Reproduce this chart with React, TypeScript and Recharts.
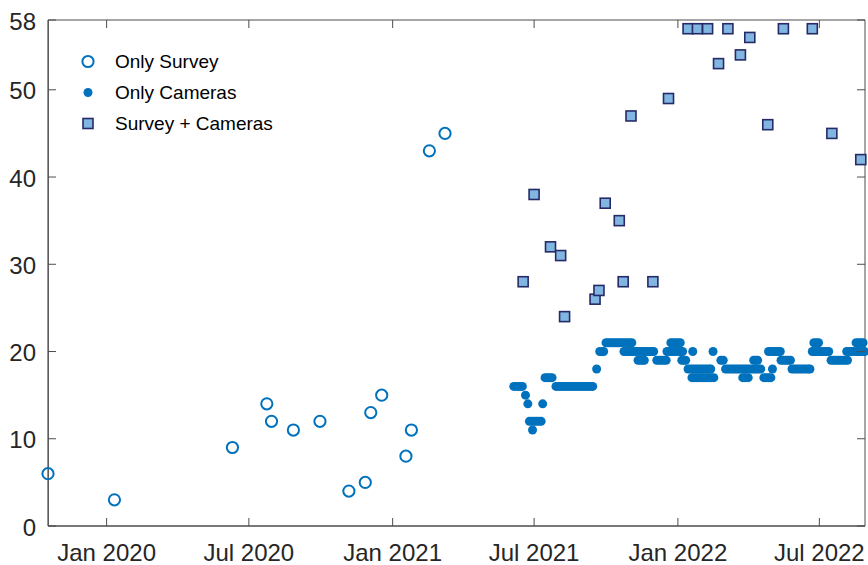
import React from 'react';
import { ScatterChart, Scatter, XAxis, YAxis, ReferenceArea, Legend } from 'recharts';

// Only Survey: count per survey date
const surveyDates = [
  '2019-10-18', '2020-01-11', '2020-06-10', '2020-07-24', '2020-07-30', '2020-08-27',
  '2020-09-30', '2020-11-06', '2020-11-27', '2020-12-04', '2020-12-18', '2021-01-18',
  '2021-01-25', '2021-02-17', '2021-03-09',
];
const surveyCounts = [6, 3, 9, 14, 12, 11, 12, 4, 5, 13, 15, 8, 11, 43, 45];

// Survey + Cameras
const comboDates = [
  '2021-06-17', '2021-07-01', '2021-07-22', '2021-08-04', '2021-08-09', '2021-09-17',
  '2021-09-22', '2021-09-30', '2021-10-18', '2021-10-23', '2021-11-02', '2021-11-30',
  '2021-12-20', '2022-01-14', '2022-01-26', '2022-02-08', '2022-02-22', '2022-03-06',
  '2022-03-22', '2022-04-03', '2022-04-26', '2022-05-16', '2022-06-22', '2022-07-17',
  '2022-08-23',
];
const comboCounts = [
  28, 38, 32, 31, 24, 26, 27, 37, 35, 28, 47, 28, 49, 57, 57, 57, 53, 57, 54, 56, 46, 57,
  57, 45, 42,
];

// Only Cameras: dates grouped by the count recorded on them
const cameraRuns: [number, string[]][] = [
  [16, ['2021-06-05', '2021-06-08', '2021-06-11', '2021-06-14', '2021-06-16']],
  [15, ['2021-06-20']],
  [14, ['2021-06-23', '2021-07-12']],
  [12, ['2021-06-25', '2021-06-28', '2021-07-01', '2021-07-04', '2021-07-07', '2021-07-10']],
  [11, ['2021-06-29']],
  [17, ['2021-07-15', '2021-07-18', '2021-07-21', '2021-07-24']],
  [16, ['2021-07-29', '2021-08-01', '2021-08-04', '2021-08-07', '2021-08-10', '2021-08-13',
    '2021-08-16', '2021-08-19', '2021-08-22', '2021-08-25', '2021-08-28', '2021-08-31',
    '2021-09-03', '2021-09-06', '2021-09-09', '2021-09-12', '2021-09-14']],
  [18, ['2021-09-19']],
  [20, ['2021-09-23', '2021-09-26', '2021-09-28']],
  [21, ['2021-10-01', '2021-10-04', '2021-10-07', '2021-10-10', '2021-10-13', '2021-10-16',
    '2021-10-19', '2021-10-22', '2021-10-25', '2021-10-28', '2021-10-31', '2021-11-03']],
  [20, ['2021-10-24', '2021-10-27', '2021-10-30', '2021-11-02', '2021-11-05', '2021-11-08',
    '2021-11-11', '2021-11-14', '2021-11-17', '2021-11-20', '2021-11-23', '2021-11-26',
    '2021-11-29', '2021-12-01']],
  [19, ['2021-11-11', '2021-11-14', '2021-11-17', '2021-11-19']],
  [19, ['2021-12-05', '2021-12-08', '2021-12-11', '2021-12-14', '2021-12-17']],
  [21, ['2021-12-23', '2021-12-26', '2021-12-29', '2022-01-01', '2022-01-04']],
  [20, ['2021-12-18', '2021-12-21', '2021-12-24', '2021-12-27', '2021-12-30', '2022-01-02',
    '2022-01-05', '2022-01-07']],
  [19, ['2022-01-06', '2022-01-09', '2022-01-11']],
  [20, ['2022-01-20', '2022-02-15']],
  [18, ['2022-01-14', '2022-01-17', '2022-01-20', '2022-01-23', '2022-01-26', '2022-01-29',
    '2022-02-01', '2022-02-04', '2022-02-07', '2022-02-10', '2022-02-12']],
  [17, ['2022-01-19', '2022-01-22', '2022-01-25', '2022-01-28', '2022-01-31', '2022-02-03',
    '2022-02-06', '2022-02-09', '2022-02-12', '2022-02-16']],
  [19, ['2022-02-25', '2022-02-28']],
  [18, ['2022-03-03', '2022-03-06', '2022-03-09', '2022-03-12', '2022-03-15', '2022-03-18',
    '2022-03-21', '2022-03-24', '2022-03-27', '2022-03-30', '2022-04-02', '2022-04-05',
    '2022-04-08', '2022-04-11', '2022-04-14', '2022-04-17']],
  [17, ['2022-03-25', '2022-03-28', '2022-04-01']],
  [19, ['2022-04-08', '2022-04-11', '2022-04-13']],
  [17, ['2022-04-21', '2022-04-24', '2022-04-27', '2022-04-30']],
  [20, ['2022-04-27', '2022-04-30', '2022-05-03', '2022-05-06', '2022-05-09', '2022-05-12']],
  [18, ['2022-05-02']],
  [19, ['2022-05-13', '2022-05-16', '2022-05-19', '2022-05-22', '2022-05-25']],
  [18, ['2022-05-27', '2022-05-30', '2022-06-02', '2022-06-05', '2022-06-08', '2022-06-11',
    '2022-06-14', '2022-06-17', '2022-06-19']],
  [21, ['2022-06-24', '2022-06-27', '2022-06-30']],
  [20, ['2022-06-22', '2022-06-25', '2022-06-28', '2022-07-01', '2022-07-04', '2022-07-07',
    '2022-07-10', '2022-07-13']],
  [19, ['2022-07-16', '2022-07-19', '2022-07-22', '2022-07-25', '2022-07-28', '2022-07-31',
    '2022-08-03', '2022-08-06']],
  [20, ['2022-08-05', '2022-08-08', '2022-08-11', '2022-08-13']],
  [21, ['2022-08-17', '2022-08-20', '2022-08-23', '2022-08-26']],
  [20, ['2022-08-17', '2022-08-20', '2022-08-23', '2022-08-26', '2022-08-28']],
];

const seriesNames = ['Only Survey', 'Only Cameras', 'Survey + Cameras'];
const xTickDates = ['2020-01-01', '2020-07-01', '2021-01-01', '2021-07-01', '2022-01-01', '2022-07-01'];
const yTicks = [0, 10, 20, 30, 40, 50, 58];
const MONTHS = ['Jan', 'Feb', 'Mar', 'Apr', 'May', 'Jun', 'Jul', 'Aug', 'Sep', 'Oct', 'Nov', 'Dec'];

const toTime = (s: string) => Date.parse(s + 'T00:00:00Z');

const surveyData = surveyDates.map((d, i) => ({ t: toTime(d), v: surveyCounts[i] }));
const comboData = comboDates.map((d, i) => ({ t: toTime(d), v: comboCounts[i] }));
const cameraData = cameraRuns.flatMap(([v, dates]) => dates.map((d) => ({ t: toTime(d), v })));

const X_MIN = Date.parse('2019-10-18T10:00:00Z');
const X_MAX = Date.parse('2022-08-28T10:00:00Z');
const Y_MAX = 58;

const W = 868;
const H = 565;
const PLOT_TOP = 20;
const PLOT_BOTTOM = 526;
const PLOT_LEFT = 48;
const PLOT_RIGHT = 865;
const TICK_LEN = 8;

const AXIS = '#4d4d4d';
const TEXT = '#262626';
const BLUE = '#0072BD';
const SQ_FILL = '#80b6e1';
const SQ_EDGE = '#262a66';
const FONT = '"Liberation Sans", Arial, Helvetica, sans-serif';

const fmtMonth = (t: number) => {
  const d = new Date(t);
  return `${MONTHS[d.getUTCMonth()]} ${d.getUTCFullYear()}`;
};

const OpenCircle = (p: any) => (
  <circle cx={p.cx} cy={p.cy} r={5.6} fill="none" stroke={BLUE} strokeWidth={2} />
);
const Dot = (p: any) => <circle cx={p.cx} cy={p.cy} r={4.5} fill={BLUE} />;
const Square = (p: any) => (
  <rect x={p.cx - 5} y={p.cy - 5} width={10} height={10} fill={SQ_FILL} stroke={SQ_EDGE} strokeWidth={1.6} />
);

// inward ticks on both the bottom and top edges, MATLAB box style
const XTick = (props: any) => {
  const { x, payload } = props;
  return (
    <g>
      <line x1={x} x2={x} y1={PLOT_BOTTOM} y2={PLOT_BOTTOM - TICK_LEN} stroke={AXIS} />
      <line x1={x} x2={x} y1={PLOT_TOP} y2={PLOT_TOP + TICK_LEN} stroke={AXIS} />
      <text x={x} y={552} textAnchor="middle" dominantBaseline="central"
        fontSize={24} fontFamily={FONT} fill={TEXT}>
        {fmtMonth(payload.value)}
      </text>
    </g>
  );
};

const YTick = (props: any) => {
  const { y, payload } = props;
  return (
    <g>
      <line x1={PLOT_LEFT} x2={PLOT_LEFT + TICK_LEN} y1={y} y2={y} stroke={AXIS} />
      <line x1={PLOT_RIGHT} x2={PLOT_RIGHT - TICK_LEN} y1={y} y2={y} stroke={AXIS} />
      <text x={36} y={y + 1} textAnchor="end" dominantBaseline="central"
        fontSize={24} fontFamily={FONT} fill={TEXT}>
        {payload.value}
      </text>
    </g>
  );
};

const legendSymbol = (name: string) => {
  if (name === 'Only Survey') return <OpenCircle cx={12} cy={15.5} />;
  if (name === 'Only Cameras') return <circle cx={12} cy={15.5} r={4.5} fill={BLUE} />;
  return <Square cx={12} cy={15.5} />;
};

const LegendBox = (props: any) => {
  const items = [...(props.payload || [])].sort(
    (a: any, b: any) => seriesNames.indexOf(a.value) - seriesNames.indexOf(b.value),
  );
  return (
    <svg width={230} height={items.length * 31}>
      {items.map((it: any, i: number) => (
        <g key={it.value} transform={`translate(0, ${i * 31})`}>
          {legendSymbol(it.value)}
          <text x={39} y={15.5} dominantBaseline="central" fontSize={19} fontFamily={FONT} fill="#000">
            {it.value}
          </text>
        </g>
      ))}
    </svg>
  );
};

export default function App() {
  return (
    <div style={{ position: 'absolute', left: 0, top: 0, width: W, height: H, background: '#fff' }}>
      <ScatterChart width={W} height={H} margin={{ top: PLOT_TOP, right: W - PLOT_RIGHT, bottom: 0, left: 0 }}>
        <XAxis
          type="number"
          dataKey="t"
          domain={[X_MIN, X_MAX]}
          ticks={xTickDates.map(toTime)}
          tick={<XTick />}
          tickLine={false}
          tickSize={0}
          axisLine={{ stroke: AXIS }}
          height={H - PLOT_BOTTOM}
          interval={0}
        />
        <YAxis
          type="number"
          dataKey="v"
          domain={[0, Y_MAX]}
          ticks={yTicks}
          tick={<YTick />}
          tickLine={false}
          tickSize={0}
          axisLine={{ stroke: AXIS }}
          width={PLOT_LEFT}
          interval={0}
        />
        <ReferenceArea x1={X_MIN} x2={X_MAX} y1={0} y2={Y_MAX} fill="none" stroke={AXIS} strokeWidth={1} />
        <Legend
          layout="horizontal"
          verticalAlign="middle"
          align="center"
          wrapperStyle={{ left: 76, top: 46, width: 230 }}
          content={<LegendBox />}
        />
        <Scatter name={seriesNames[0]} data={surveyData} shape={OpenCircle} isAnimationActive={false} />
        <Scatter name={seriesNames[1]} data={cameraData} shape={Dot} isAnimationActive={false} />
        <Scatter name={seriesNames[2]} data={comboData} shape={Square} isAnimationActive={false} />
      </ScatterChart>
    </div>
  );
}
